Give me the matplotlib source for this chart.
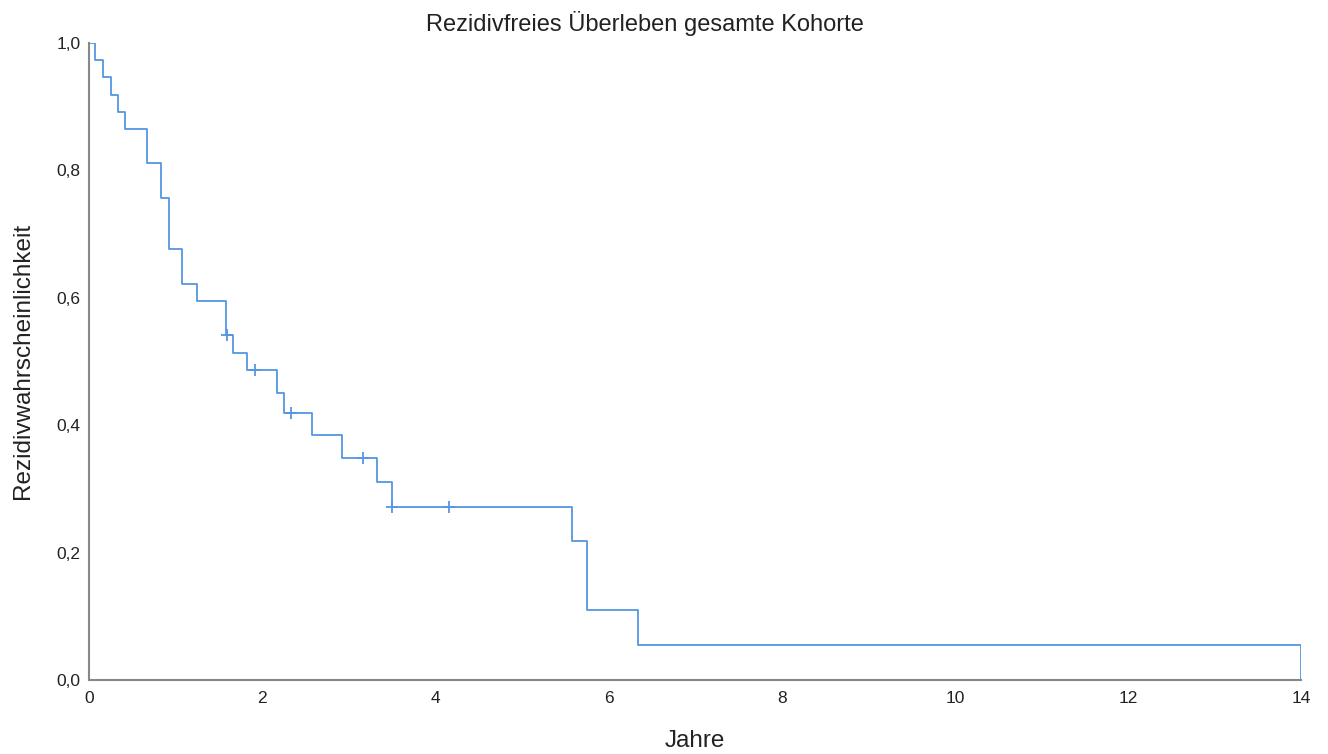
import numpy as np
import matplotlib.pyplot as plt

plt.rcParams['font.family'] = ['Liberation Sans', 'DejaVu Sans']

# Kaplan-Meier Stufen (Zeit in Jahren, Überlebenswahrscheinlichkeit ab diesem Zeitpunkt)
times = [0, 0.07, 0.16, 0.25, 0.33, 0.42, 0.67, 0.83, 0.92, 1.08, 1.25, 1.58,
         1.66, 1.83, 2.17, 2.25, 2.58, 2.92, 3.33, 3.50, 5.58, 5.75, 6.34, 14.0]
surv = [1.0, 0.973, 0.946, 0.919, 0.892, 0.865, 0.811, 0.757, 0.676, 0.622, 0.595,
        0.541, 0.514, 0.486, 0.451, 0.419, 0.384, 0.349, 0.311, 0.272, 0.219,
        0.110, 0.055, 0.0]

# zensierte Fälle
cens_t = [1.59, 1.92, 2.33, 3.16, 3.50, 4.16]
cens_s = [0.541, 0.486, 0.419, 0.349, 0.272, 0.272]

xticks = [0, 2, 4, 6, 8, 10, 12, 14]
yticks = [0.0, 0.2, 0.4, 0.6, 0.8, 1.0]

color = "#5596e4"
textcol = "#222222"

fig = plt.figure(figsize=(13.28, 7.54), dpi=100)
ax = fig.add_axes([0.067, 0.098, 0.9128, 0.845])

ax.step(times, surv, where="post", color=color, linewidth=1.3, zorder=3)
ax.plot(cens_t, cens_s, linestyle="none", marker="+", markersize=9,
        markeredgewidth=1.3, color=color, zorder=3)

ax.set_xlim(0, 14)
ax.set_ylim(0, 1.0)
ax.set_xticks(xticks)
ax.set_xticklabels([str(t) for t in xticks])
ax.set_yticks(yticks)
ax.set_yticklabels([f"{v:.1f}".replace(".", ",") for v in yticks])
ax.tick_params(axis="both", length=0, labelsize=12.5, colors=textcol)
ax.tick_params(axis="x", pad=8)
ax.tick_params(axis="y", pad=6)

for s in ["top", "right"]:
    ax.spines[s].set_visible(False)
for s in ["left", "bottom"]:
    ax.spines[s].set_color("#888888")
    ax.spines[s].set_linewidth(1.5)

fig.text(0.486, 0.969, "Rezidivfreies Überleben gesamte Kohorte", fontsize=17,
         ha="center", va="center", color=textcol)
fig.text(0.523, 0.017, "Jahre", fontsize=17.5, ha="center", va="center", color=textcol)
fig.text(0.0175, 0.521, "Rezidivwahrscheinlichkeit", fontsize=17.5, rotation=90,
         ha="center", va="center", color=textcol)

fig.savefig("out.png", dpi=100)
